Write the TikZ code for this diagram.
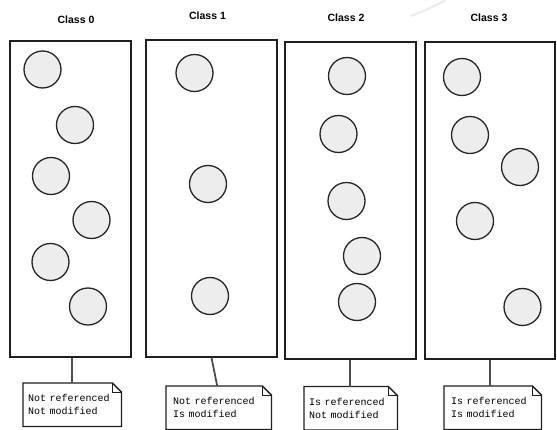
\documentclass[tikz,border=0pt]{standalone}
\usepackage{fontspec}
\newfontfamily\monof{Liberation Mono}
\newfontfamily\titlef{Liberation Sans}
\begin{document}
\begin{tikzpicture}[x=1pt,y=-1pt,
  classbox/.style={draw=black!88, line width=1.3pt, inner sep=0pt, rectangle},
  page/.style={circle, draw=black!85, fill=black!7, line width=1.3pt, minimum size=37pt, inner sep=0pt},
  classtitle/.style={font=\titlef\bfseries\fontsize{10.5}{12}\selectfont, inner sep=0pt},
  notebox/.style={anchor=north west, inner xsep=5pt, inner ysep=0pt, minimum height=43pt,
    align=left, font=\monof\fontsize{10}{13}\selectfont},
  noteline/.style={draw=black!88, line width=1.3pt, line join=miter},
  link/.style={draw=black!70, line width=1.8pt}]
\useasboundingbox (0,0) rectangle (557,430);
\fill[white] (0,0) rectangle (557,430);
% faint stroke near the top edge
\draw[black!8, line width=2pt] (411,16) .. controls (426,10) .. (446,0);

% class titles
\node[classtitle] (t0) at (76,20) {Class 0};
\node[classtitle] (t1) at (207.5,16) {Class 1};
\node[classtitle] (t2) at (346,17.5) {Class 2};
\node[classtitle] (t3) at (489,17.5) {Class 3};

% class boxes
\node[classbox, minimum width=121pt, minimum height=316pt] (b0) at (70.5,199) {};
\node[classbox, minimum width=131pt, minimum height=317pt] (b1) at (211.5,198.5) {};
\node[classbox, minimum width=131pt, minimum height=317pt] (b2) at (350.5,200.5) {};
\node[classbox, minimum width=130pt, minimum height=317pt] (b3) at (490,200.5) {};

% pages of class 0
\node[page] (p0a) at (42.5,69.5) {};
\node[page] (p0b) at (75,125) {};
\node[page] (p0c) at (51,176) {};
\node[page] (p0d) at (91.5,220) {};
\node[page] (p0e) at (50.5,262) {};
\node[page] (p0f) at (88,306.5) {};
% pages of class 1
\node[page] (p1a) at (194.5,73) {};
\node[page] (p1b) at (208,184) {};
\node[page] (p1c) at (210,296) {};
% pages of class 2
\node[page] (p2a) at (347,76) {};
\node[page] (p2b) at (338.5,134) {};
\node[page] (p2c) at (346.5,201) {};
\node[page] (p2d) at (362,256) {};
\node[page] (p2e) at (357,302) {};
% pages of class 3
\node[page] (p3a) at (462,77) {};
\node[page] (p3b) at (470,135) {};
\node[page] (p3c) at (520,167) {};
\node[page] (p3d) at (475,221) {};
\node[page] (p3e) at (522.5,307) {};

% notes
\node[notebox, minimum width=98pt, text width=88pt] (n0) at (23,383) {Not referenced\\Not modified};
\node[notebox, minimum width=101pt, text width=91pt, inner xsep=7pt] (n1) at (166,386) {Not referenced\\Is modified};
\node[notebox, minimum width=93pt, text width=83pt] (n2) at (304,386.5) {Is referenced\\Not modified};
\node[notebox, minimum width=97pt, text width=83pt, inner xsep=7pt] (n3) at (444,386) {Is referenced\\Is modified};

\foreach \n in {n0,n1,n2,n3} {
  \draw[noteline] (\n.north west) -- ([xshift=-9pt]\n.north east)
    -- ([yshift=-9pt]\n.north east) -- (\n.south east) -- (\n.south west) -- cycle;
  \draw[noteline, line width=0.7pt] ([xshift=-9pt]\n.north east) |- ([yshift=-9pt]\n.north east);
}

% note links
\draw[link] (b0.south -| n0.north) -- (n0.north);
\draw[link] (b1.south) -- ([xshift=-1.5pt]n1.north);
\draw[link] ([xshift=-0.5pt]b2.south) -- ([xshift=-0.5pt]b2.south |- n2.north);
\draw[link] (b3.south) -- (b3.south |- n3.north);
\end{tikzpicture}
\end{document}
